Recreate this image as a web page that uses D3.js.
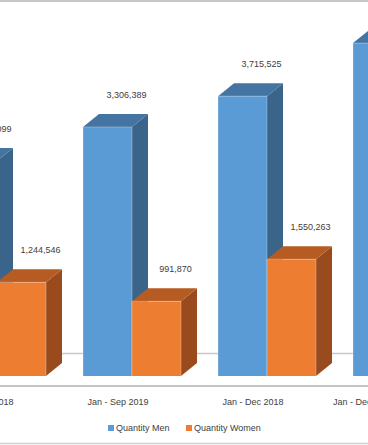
<!DOCTYPE html>
<html><head><meta charset="utf-8">
<script src="https://cdn.jsdelivr.net/npm/d3@7"></script>
<style>html,body{margin:0;padding:0;background:#fff;overflow:hidden}svg{display:block}</style>
</head><body>
<script>
const categories = ["Jan - Sep 2018", "Jan - Sep 2019", "Jan - Dec 2018", "Jan - Dec 2019"];
const seriesNames = ["Quantity Men", "Quantity Women"];
const menValues = [2855099, 3306389, 3715525, 4420000];
const womenValues = [1244546, 991870, 1550263, 1900000];
const valueLabels = [["2,855,099","3,306,389","3,715,525","4,420,000"],["1,244,546","991,870","1,550,263","1,900,000"]];

const W = 368, H = 445;
const svg = d3.select("body").append("svg").attr("width", W).attr("height", H);
const font = "Liberation Sans, Arial, sans-serif";

const y = d3.scaleLinear().domain([0, 5000000]).range([376, 376 - 376.6]);
const x = d3.scaleBand().domain(categories).range([-52, 451]).paddingInner(37/135).paddingOuter(0);
const xs = d3.scaleBand().domain(seriesNames).range([0, x.bandwidth()]);
const DX = 16, DY = 13;
const colors = {
  "Quantity Men": {front:"#5b9bd5", top:"#4474a2", side:"#3a6489"},
  "Quantity Women": {front:"#ed7d31", top:"#b65c22", side:"#9a4b1d"}
};

// borders and floor
svg.append("line").attr("x1",0).attr("x2",W).attr("y1",1).attr("y2",1).attr("stroke","#c8c8c8").attr("stroke-width",2);
svg.append("line").attr("x1",0).attr("x2",W).attr("y1",443.5).attr("y2",443.5).attr("stroke","#d0d0d0").attr("stroke-width",1.5);
svg.append("line").attr("x1",0).attr("x2",W).attr("y1",y(0)-22.5).attr("y2",y(0)-22.5).attr("stroke","#c8c8c8").attr("stroke-width",1.5);
svg.append("line").attr("x1",0).attr("x2",W).attr("y1",y(0)+10).attr("y2",y(0)+10).attr("stroke","#c4c4c4").attr("stroke-width",2);

const data = [];
categories.forEach((c, i) => {
  data.push({cat:c, s:seriesNames[0], v:menValues[i], label:valueLabels[0][i]});
  data.push({cat:c, s:seriesNames[1], v:womenValues[i], label:valueLabels[1][i]});
});

const g = svg.append("g");
data.forEach(d => {
  const x0 = x(d.cat) + xs(d.s), w = xs.bandwidth();
  const yt = y(d.v), yb = y(0);
  const col = colors[d.s];
  const bg = g.append("g");
  bg.append("path").attr("d", `M${x0+w},${yt}L${x0+w+DX},${yt-DY}L${x0+w+DX},${yb-DY}L${x0+w},${yb}Z`).attr("fill", col.side);
  bg.append("path").attr("d", `M${x0},${yt}L${x0+DX},${yt-DY}L${x0+w+DX},${yt-DY}L${x0+w},${yt}Z`).attr("fill", col.top);
  bg.append("rect").attr("x", x0).attr("y", yt).attr("width", w).attr("height", yb - yt).attr("fill", col.front);
  bg.append("path").attr("d", `M${x0},${yb}L${x0},${yt}L${x0+w},${yt}L${x0+w},${yb}`).attr("fill","none").attr("stroke","rgba(255,255,255,0.35)").attr("stroke-width",0.8);
});

// value labels
svg.append("g").selectAll("text").data(data).join("text")
  .attr("x", d => x(d.cat) + xs(d.s) + xs.bandwidth()/2 + 19)
  .attr("y", d => y(d.v) - 32)
  .attr("text-anchor","middle").attr("dominant-baseline","central")
  .attr("font-family", font).attr("font-size", 9).attr("fill","#404040")
  .text(d => d.label);

// category labels (last one kept inside the original chart area, like Excel does)
const chartRight = 394;
svg.append("g").selectAll("text").data(categories).join("text")
  .attr("y", 402)
  .attr("text-anchor","start").attr("dominant-baseline","central")
  .attr("font-family", font).attr("font-size", 9).attr("fill","#404040")
  .text(c => c)
  .attr("x", function(c) {
    const w = this.getComputedTextLength();
    const cx = Math.min(x(c) + 35, chartRight - w / 2);
    return cx - w / 2;
  });

// legend
const legX = [108, 186];
const leg = svg.append("g").selectAll("g").data(seriesNames).join("g")
  .attr("transform", (d,i) => `translate(${legX[i]},428)`);
leg.append("rect").attr("x",0).attr("y",-3).attr("width",6).attr("height",6).attr("fill", d => colors[d].front);
leg.append("text").attr("x",8).attr("y",0).attr("dominant-baseline","central")
  .attr("font-family", font).attr("font-size", 9).attr("fill","#404040").text(d => d);
</script>
</body></html>
